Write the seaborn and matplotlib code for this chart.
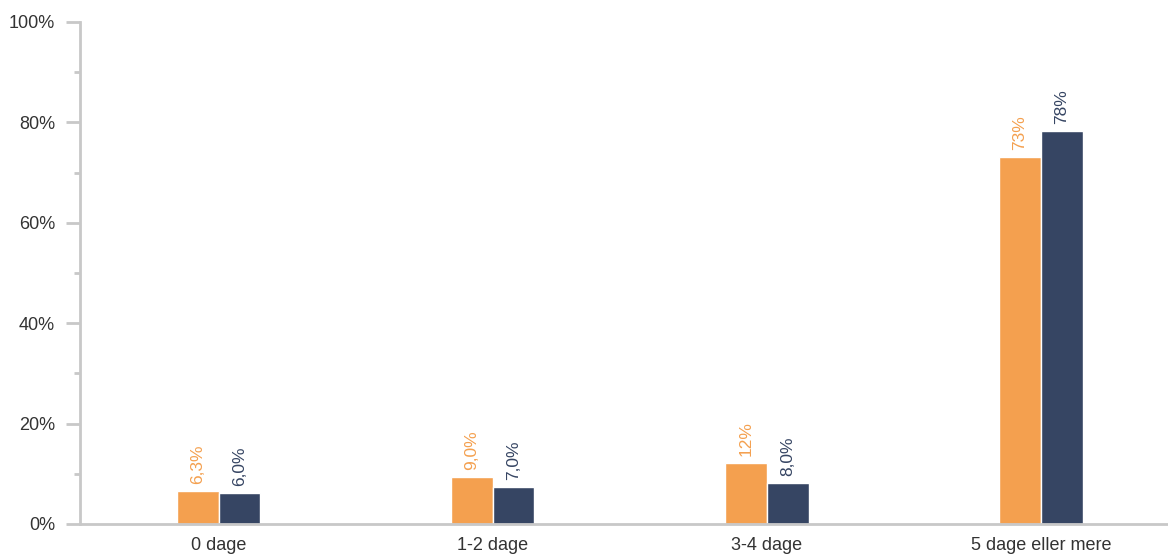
import pandas as pd
import numpy as np
import matplotlib
matplotlib.use("Agg")
import matplotlib.pyplot as plt
import seaborn as sns
from matplotlib.ticker import MultipleLocator, PercentFormatter

categories = ["0 dage", "1-2 dage", "3-4 dage", "5 dage eller mere"]
series = ["A", "B"]
values_a = [6.6, 9.4, 12.2, 73.2]
values_b = [6.2, 7.4, 8.2, 78.3]
labels_a = ["6,3%", "9,0%", "12%", "73%"]
labels_b = ["6,0%", "7,0%", "8,0%", "78%"]
colors = ["#F4A04F", "#364563"]

df = pd.DataFrame({
    "kategori": categories * 2,
    "serie": [series[0]] * 4 + [series[1]] * 4,
    "andel": values_a + values_b,
})

sns.set_style("white")
plt.rcParams["font.family"] = ["Liberation Sans", "DejaVu Sans"]

fig = plt.figure(figsize=(11.68, 5.54), dpi=100)
ax = fig.add_axes([80 / 1168, 30 / 554, 1098 / 1168, 502 / 554])

sns.barplot(data=df, x="kategori", y="andel", hue="serie", palette=colors,
            width=0.305, saturation=1, edgecolor="white", linewidth=1,
            legend=False, ax=ax)

for cont, labs, col in zip(ax.containers, [labels_a, labels_b], colors):
    ax.bar_label(cont, labels=labs, rotation=90, color=col, fontsize=12.5, padding=5)

ax.set_xlim(-0.5055, 3.5)
ax.set_ylim(0, 100)
ax.yaxis.set_major_locator(MultipleLocator(20))
ax.yaxis.set_minor_locator(MultipleLocator(10))
ax.yaxis.set_major_formatter(PercentFormatter(decimals=0))
ax.set_xlabel("")
ax.set_ylabel("")

for s in ["top", "right"]:
    ax.spines[s].set_visible(False)
for s in ["left", "bottom"]:
    ax.spines[s].set_color("#C8C8C8")
    ax.spines[s].set_linewidth(2)

ax.tick_params(axis="y", which="major", length=10, width=2, color="#C8C8C8",
               labelsize=13, labelcolor="#333333", left=True, pad=8)
ax.tick_params(axis="y", which="minor", length=4, width=2, color="#C8C8C8", left=True)
ax.tick_params(axis="x", length=0, labelsize=13, labelcolor="#333333", pad=9)

plt.savefig("out.png", dpi=100)
